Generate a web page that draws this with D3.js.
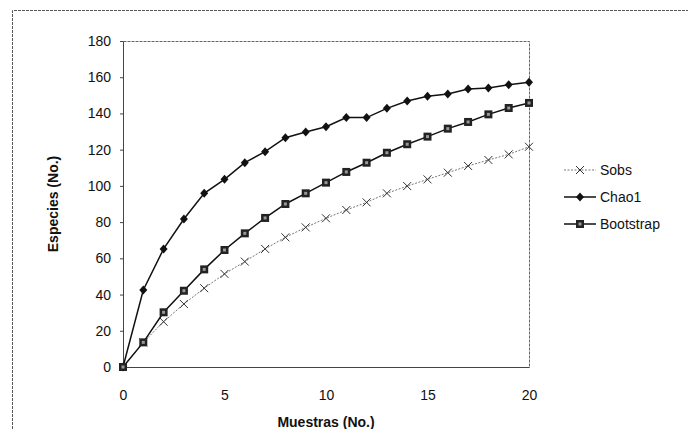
<!DOCTYPE html>
<html><head><meta charset="utf-8">
<script src="https://cdn.jsdelivr.net/npm/d3@7"></script>
<style>body{margin:0;background:#fff}svg{display:block}text{font-family:"Liberation Sans",Arial,sans-serif}</style>
</head><body>
<svg id="c" width="688" height="429"></svg>
<script>
const samples = [0,1,2,3,4,5,6,7,8,9,10,11,12,13,14,15,16,17,18,19,20];
const sobs = [0,13.6,25,34.8,43.5,51.4,58.2,65.2,71.6,77.1,82.1,86.7,90.9,95.9,99.9,103.6,107.3,111,114.3,117.4,121.6];
const chao1 = [0,42.5,65.2,81.7,95.9,103.6,112.8,118.9,126.6,129.8,132.7,137.7,137.7,142.8,146.9,149.5,150.7,153.5,154.1,155.9,157.2];
const bootstrap = [0,13.6,30.2,42.1,53.9,64.6,73.8,82.3,90,95.9,101.8,107.7,112.8,118.3,123,127.2,131.6,135.3,139.5,143,145.8];
const xTicks = [0,5,10,15,20];
const yTicks = [0,20,40,60,80,100,120,140,160,180];
const seriesNames = ["Sobs","Chao1","Bootstrap"];

const svg = d3.select("#c");
const L=123, R=529, T=41, B=367;
const x = d3.scaleLinear().domain([0,20]).range([L,R]);
const y = d3.scaleLinear().domain([0,180]).range([B,T]);

// outer frame (open to right/bottom)
svg.append("path").attr("d","M12.5,429 L12.5,10.5 L688,10.5").attr("fill","none").attr("stroke","#555").attr("stroke-width",1).attr("stroke-dasharray","3,1");

// plot area border
svg.append("rect").attr("x",L+0.5).attr("y",T+0.5).attr("width",R-L).attr("height",B-T)
  .attr("fill","none").attr("stroke","#666").attr("stroke-width",1).attr("stroke-dasharray","3,1");

// axes
const yAxis = svg.append("g").attr("transform",`translate(${L},0)`)
  .call(d3.axisLeft(y).tickValues(yTicks).tickSize(3).tickPadding(9));
yAxis.select(".domain").attr("stroke","#444");
yAxis.selectAll("text").attr("font-size",14).attr("fill","#111");
yAxis.selectAll("line").attr("stroke","#444");

const xAxis = svg.append("g").attr("transform",`translate(0,${B})`)
  .call(d3.axisBottom(x).tickValues(xTicks).tickSize(0).tickPadding(23));
xAxis.select(".domain").attr("stroke","#444");
xAxis.selectAll("text").attr("font-size",14).attr("fill","#111");

svg.append("text").attr("x",(L+R)/2).attr("y",427).attr("text-anchor","middle")
  .attr("font-size",14).attr("font-weight","bold").attr("fill","#111").text("Muestras (No.)");
svg.append("text").attr("transform",`translate(58,${(T+B)/2}) rotate(-90)`).attr("text-anchor","middle")
  .attr("font-size",14).attr("font-weight","bold").attr("fill","#111").text("Especies (No.)");

const line = d3.line().x((d,i)=>x(samples[i])).y(d=>y(d));

function drawX(g,cx,cy){
  g.append("path").attr("d",`M${cx-4},${cy-4}L${cx+4},${cy+4}M${cx-4},${cy+4}L${cx+4},${cy-4}`)
   .attr("stroke","#333").attr("stroke-width",1).attr("fill","none");
}
function drawDiamond(g,cx,cy){
  g.append("path").attr("d",`M${cx},${cy-4.5}L${cx+4},${cy}L${cx},${cy+4.5}L${cx-4},${cy}Z`).attr("fill","#111");
}
function drawSquare(g,cx,cy){
  g.append("rect").attr("x",cx-4).attr("y",cy-4).attr("width",8).attr("height",8).attr("fill","#222");
  g.append("rect").attr("x",cx-1.5).attr("y",cy-1.5).attr("width",3).attr("height",3).attr("fill","#999");
}

// Sobs
svg.append("path").datum(sobs).attr("d",line).attr("fill","none").attr("stroke","#777").attr("stroke-width",1).attr("stroke-dasharray","2,1.5");
const gS = svg.append("g"); sobs.forEach((v,i)=>drawX(gS,x(samples[i]),y(v)));
// Chao1
svg.append("path").datum(chao1).attr("d",line).attr("fill","none").attr("stroke","#111").attr("stroke-width",1.5);
const gC = svg.append("g"); chao1.forEach((v,i)=>drawDiamond(gC,x(samples[i]),y(v)));
// Bootstrap
svg.append("path").datum(bootstrap).attr("d",line).attr("fill","none").attr("stroke","#111").attr("stroke-width",1.5);
const gB = svg.append("g"); bootstrap.forEach((v,i)=>drawSquare(gB,x(samples[i]),y(v)));

// legend
const lg = svg.append("g");
const ly = [170,197,224];
const markers = [drawX, drawDiamond, drawSquare];
seriesNames.forEach((n,i)=>{
  const l = lg.append("line").attr("x1",564).attr("x2",596).attr("y1",ly[i]).attr("y2",ly[i])
    .attr("stroke", i===0?"#777":"#111").attr("stroke-width", i===0?1:1.5);
  if(i===0) l.attr("stroke-dasharray","2,1.5");
  markers[i](lg,580,ly[i]);
  lg.append("text").attr("x",600).attr("y",ly[i]+5).attr("font-size",14).attr("fill","#111").text(n);
});
</script>
</body></html>
